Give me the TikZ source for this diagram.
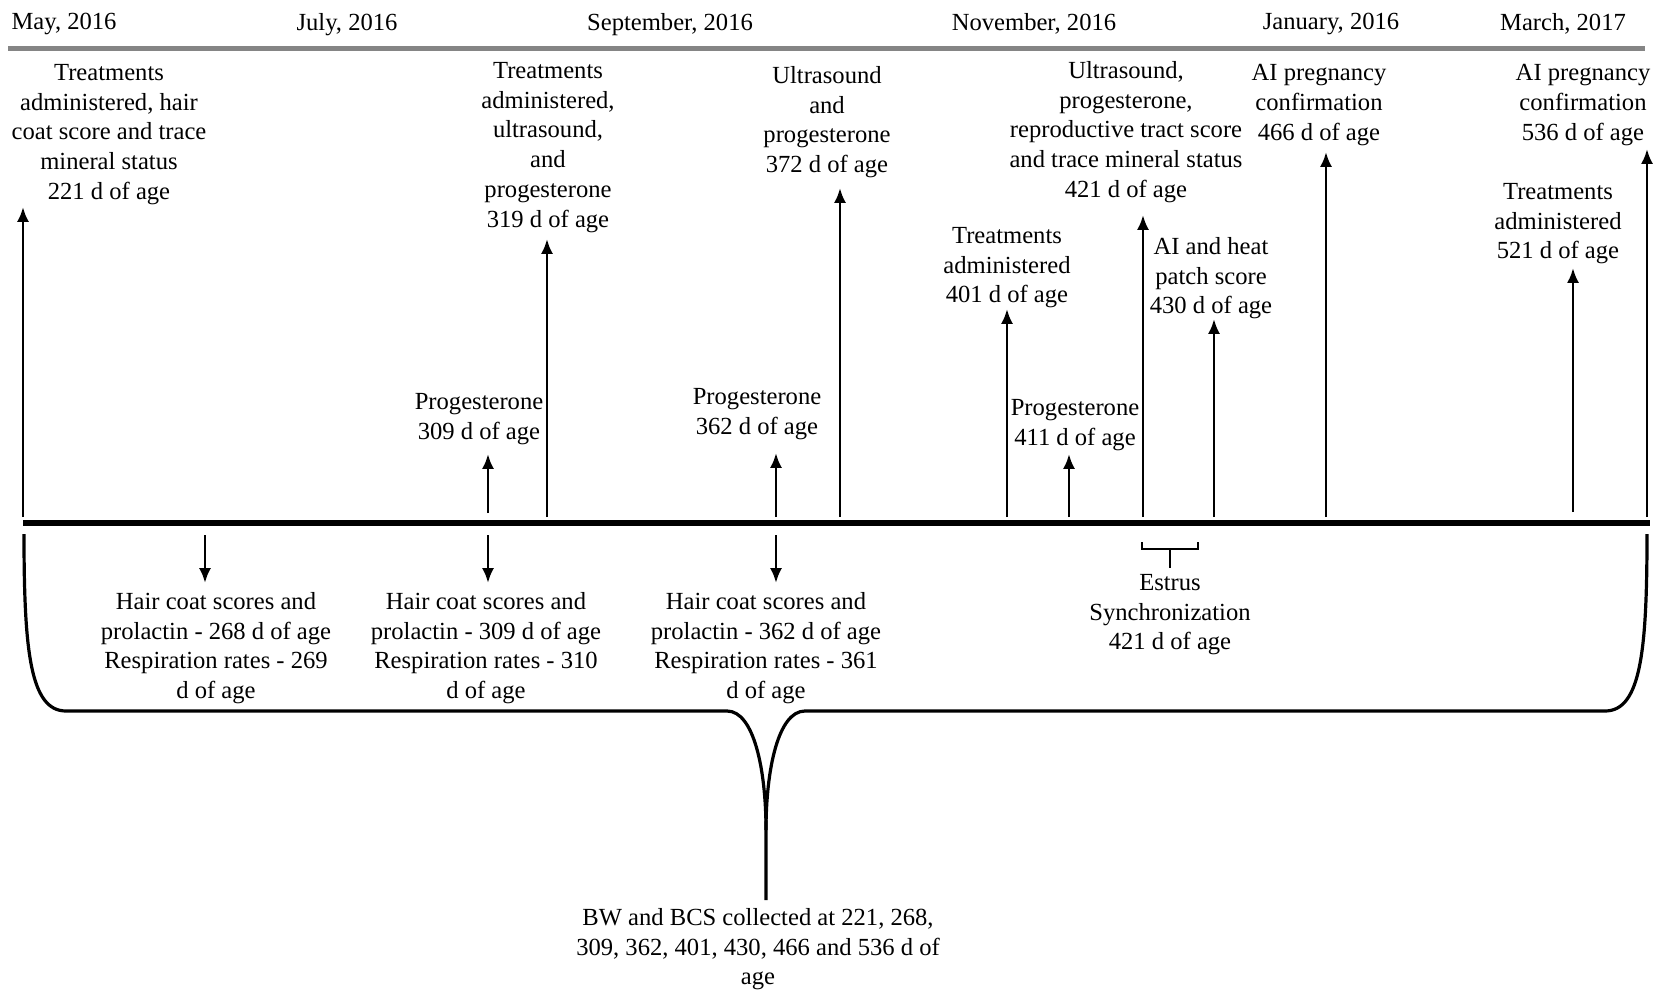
\documentclass[tikz,border=0pt]{standalone}
\usepackage{fontspec}
\setmainfont{Liberation Serif}
\usetikzlibrary{arrows.meta}
\begin{document}
\begin{tikzpicture}[x=0.5pt,y=-0.5pt,
  lbl/.style={anchor=north,inner sep=0pt,align=center,font=\fontsize{12.3}{14.85}\selectfont},
  uparr/.style={line width=1.4pt,-{Latex[length=7.4pt,width=6pt]}},
  downarr/.style={line width=1.4pt,-{Latex[length=7.4pt,width=6pt]}},
  braceline/.style={line width=1.6pt},
  timeline/.style={line width=2.8pt},
  topline/.style={line width=2.5pt,draw=black!48}]
\useasboundingbox (0,0) rectangle (1665,990);
% top gray line and months
\draw[topline] (8,49) -- (1645,49);
\node[lbl] (m1) at (64,13) {May, 2016};
\node[lbl] (m2) at (347,13) {July, 2016};
\node[lbl] (m3) at (670,13) {September, 2016};
\node[lbl] (m4) at (1034,13) {November, 2016};
\node[lbl] (m5) at (1331,13) {January, 2016};
\node[lbl] (m6) at (1563,13) {March, 2017};
% main timeline
\coordinate (tl) at (23,523);
\coordinate (tr) at (1650,523);
\draw[timeline] (tl) -- (tr);
% top labels
\node[lbl] (L1) at (109,64) {Treatments\\administered, hair\\coat score and trace\\mineral status\\221 d of age};
\node[lbl] (L2) at (479,393) {Progesterone\\309 d of age};
\node[lbl] (L3) at (548,62) {Treatments\\administered,\\ultrasound,\\and\\progesterone\\319 d of age};
\node[lbl] (L4) at (757,388) {Progesterone\\362 d of age};
\node[lbl] (L5) at (827,66) {Ultrasound\\and\\progesterone\\372 d of age};
\node[lbl] (L6) at (1007,227) {Treatments\\administered\\401 d of age};
\node[lbl] (L7) at (1075,399) {Progesterone\\411 d of age};
\node[lbl] (L8) at (1126,61) {Ultrasound,\\progesterone,\\reproductive tract score\\and trace mineral status\\421 d of age};
\node[lbl] (L9) at (1211,237) {AI and heat\\patch score\\430 d of age};
\node[lbl] (L10) at (1319,64) {AI pregnancy\\confirmation\\466 d of age};
\node[lbl] (L11) at (1558,183) {Treatments\\administered\\521 d of age};
\node[lbl] (L12) at (1583,64) {AI pregnancy\\confirmation\\536 d of age};
% up arrows
\foreach \n/\x/\b/\t in {1/23/517/207, 2/488/513/454, 3/547/517/239, 4/776/517/453,
  5/840/517/188, 6/1007/517/309, 7/1069/517/454, 8/1143/517/215, 9/1214/517/319,
  10/1326/517/152, 11/1573/512/268, 12/1647/517/149}{
  \coordinate (ub\n) at (\x,\b);
  \coordinate (ut\n) at (\x,\t);
  \draw[uparr] (ub\n) -- (ut\n);
}
% down arrows and labels
\foreach \n/\x in {1/205, 2/488, 3/776}{
  \coordinate (db\n) at (\x,535);
  \coordinate (dt\n) at (\x,583);
  \draw[downarr] (db\n) -- (dt\n);
}
\node[lbl] (D1) at (216,592) {Hair coat scores and\\prolactin - 268 d of age\\Respiration rates - 269\\d of age};
\node[lbl] (D2) at (486,592) {Hair coat scores and\\prolactin - 309 d of age\\Respiration rates - 310\\d of age};
\node[lbl] (D3) at (766,592) {Hair coat scores and\\prolactin - 362 d of age\\Respiration rates - 361\\d of age};
% estrus bracket
\coordinate (e1) at (1142,542);
\coordinate (e2) at (1198,542);
\coordinate (es) at (1170,549);
\coordinate (ee) at (1170,568);
\draw[line width=1.4pt] (e1) -- (1142,549) -- (1198,549) -- (e2);
\draw[line width=1.4pt] (es) -- (ee);
\node[lbl] (ES) at (1170,574) {Estrus\\Synchronization\\421 d of age};
% big brace
\coordinate (bl) at (24,534);
\coordinate (br) at (1647,534);
\coordinate (cusp) at (766,830);
\coordinate (btip) at (766,900);
\draw[braceline] (bl) .. controls (24,650) and (30,711) .. (66,711) -- (727,711)
  .. controls (754,711) and (766,770) .. (cusp) -- (btip);
\draw[braceline] (cusp) .. controls (766,770) and (778,711) .. (805,711) -- (1605,711)
  .. controls (1641,711) and (1647,650) .. (br);
\node[lbl] (BW) at (758,908) {BW and BCS collected at 221, 268,\\309, 362, 401, 430, 466 and 536 d of\\age};
\end{tikzpicture}
\end{document}
